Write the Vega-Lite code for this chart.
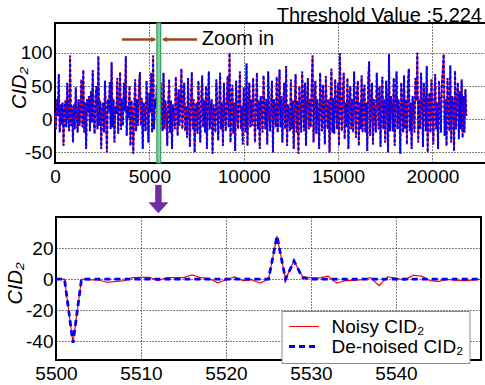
{
"$schema": "https://vega.github.io/schema/vega-lite/v6.json",
"background": "white",
"padding": {"left": 4, "top": 5, "right": 0, "bottom": 0},
"config": {
  "font": "Liberation Sans",
  "view": {"stroke": "black", "strokeWidth": 2},
  "axis": {"labelFont": "Liberation Sans", "labelFontSize": 19, "labelColor": "black", "ticks": false, "domain": false, "grid": true, "gridColor": "black", "gridDash": [1, 2], "gridOpacity": 1, "gridWidth": 1, "labelFlush": false, "labelOverlap": false, "titleFont": "Liberation Sans", "titleFontSize": 20, "titleFontWeight": "normal", "titleColor": "black", "titleFontStyle": "italic"},
  "axisX": {"labelPadding": 4},
  "axisY": {"labelPadding": 3},
  "legend": {"title": null, "symbolType": "M-3,0L3,0", "symbolSize": 100, "symbolOffset": 7, "labelFontSize": 19, "labelFont": "Liberation Sans", "labelColor": "black", "padding": 6, "strokeColor": "#8c8c8c", "fillColor": "white", "labelOffset": 18, "rowPadding": -2, "labelLimit": 400}
},
"datasets": {
  "top": [
{"x":0,"v":10},{"x":50,"v":-15},{"x":100,"v":30},{"x":150,"v":5},{"x":200,"v":68},{"x":250,"v":-20},{"x":300,"v":22},{"x":350,"v":-8},{"x":400,"v":25},{"x":450,"v":-40},
{"x":500,"v":15},{"x":550,"v":28},{"x":600,"v":-12},{"x":650,"v":55},{"x":700,"v":5},{"x":750,"v":-18},{"x":800,"v":96},{"x":850,"v":-10},{"x":900,"v":20},{"x":950,"v":-35},
{"x":1000,"v":22},{"x":1050,"v":-15},{"x":1100,"v":48},{"x":1150,"v":8},{"x":1200,"v":-20},{"x":1250,"v":30},{"x":1300,"v":-10},{"x":1350,"v":18},{"x":1400,"v":60},{"x":1450,"v":-12},
{"x":1500,"v":74},{"x":1550,"v":-20},{"x":1600,"v":25},{"x":1650,"v":-45},{"x":1700,"v":30},{"x":1750,"v":10},{"x":1800,"v":35},{"x":1850,"v":-18},{"x":1900,"v":42},{"x":1950,"v":-5},
{"x":2000,"v":74},{"x":2050,"v":0},{"x":2100,"v":-22},{"x":2150,"v":33},{"x":2200,"v":50},{"x":2250,"v":-15},{"x":2300,"v":95},{"x":2350,"v":-10},{"x":2400,"v":28},{"x":2450,"v":-45},
{"x":2500,"v":18},{"x":2550,"v":25},{"x":2600,"v":-20},{"x":2650,"v":58},{"x":2700,"v":5},{"x":2750,"v":-50},{"x":2800,"v":30},{"x":2850,"v":12},{"x":2900,"v":56},{"x":2950,"v":-15},
{"x":3000,"v":86},{"x":3050,"v":-12},{"x":3100,"v":30},{"x":3150,"v":-35},{"x":3200,"v":20},{"x":3250,"v":8},{"x":3300,"v":62},{"x":3350,"v":-22},{"x":3400,"v":25},{"x":3450,"v":71},
{"x":3500,"v":-16},{"x":3550,"v":30},{"x":3600,"v":-10},{"x":3650,"v":55},{"x":3700,"v":12},{"x":3750,"v":95},{"x":3800,"v":-25},{"x":3850,"v":20},{"x":3900,"v":2},{"x":3950,"v":50},
{"x":4000,"v":-40},{"x":4050,"v":28},{"x":4100,"v":15},{"x":4150,"v":-52},{"x":4200,"v":20},{"x":4250,"v":60},{"x":4300,"v":-18},{"x":4350,"v":30},{"x":4400,"v":-10},{"x":4450,"v":52},
{"x":4500,"v":71},{"x":4550,"v":-10},{"x":4600,"v":32},{"x":4650,"v":-45},{"x":4700,"v":25},{"x":4750,"v":15},{"x":4800,"v":-18},{"x":4850,"v":58},{"x":4900,"v":22},{"x":4950,"v":-35},
{"x":5000,"v":40},{"x":5050,"v":10},{"x":5100,"v":70},{"x":5150,"v":-20},{"x":5200,"v":96},{"x":5250,"v":-15},{"x":5300,"v":30},{"x":5350,"v":18},{"x":5400,"v":52},{"x":5450,"v":-22},
{"x":5500,"v":30},{"x":5550,"v":-38},{"x":5600,"v":55},{"x":5650,"v":5},{"x":5700,"v":-18},{"x":5750,"v":70},{"x":5800,"v":-15},{"x":5850,"v":28},{"x":5900,"v":8},{"x":5950,"v":-40},
{"x":6000,"v":25},{"x":6050,"v":60},{"x":6100,"v":-20},{"x":6150,"v":28},{"x":6200,"v":-45},{"x":6250,"v":22},{"x":6300,"v":12},{"x":6350,"v":-15},{"x":6400,"v":64},{"x":6450,"v":20},
{"x":6500,"v":-25},{"x":6550,"v":45},{"x":6600,"v":-10},{"x":6650,"v":30},{"x":6700,"v":76},{"x":6750,"v":-15},{"x":6800,"v":25},{"x":6850,"v":55},{"x":6900,"v":-18},{"x":6950,"v":20},
{"x":7000,"v":-28},{"x":7050,"v":62},{"x":7100,"v":10},{"x":7150,"v":-42},{"x":7200,"v":25},{"x":7250,"v":71},{"x":7300,"v":-15},{"x":7350,"v":30},{"x":7400,"v":-50},{"x":7450,"v":18},
{"x":7500,"v":25},{"x":7550,"v":-22},{"x":7600,"v":58},{"x":7650,"v":5},{"x":7700,"v":-35},{"x":7750,"v":30},{"x":7800,"v":66},{"x":7850,"v":-12},{"x":7900,"v":28},{"x":7950,"v":-20},
{"x":8000,"v":50},{"x":8050,"v":-45},{"x":8100,"v":20},{"x":8150,"v":72},{"x":8200,"v":-15},{"x":8250,"v":15},{"x":8300,"v":30},{"x":8350,"v":-52},{"x":8400,"v":22},{"x":8450,"v":8},
{"x":8500,"v":-20},{"x":8550,"v":60},{"x":8600,"v":20},{"x":8650,"v":-32},{"x":8700,"v":18},{"x":8750,"v":70},{"x":8800,"v":-15},{"x":8850,"v":25},{"x":8900,"v":-40},{"x":8950,"v":55},
{"x":9000,"v":10},{"x":9050,"v":-18},{"x":9100,"v":30},{"x":9150,"v":65},{"x":9200,"v":-12},{"x":9250,"v":100},{"x":9300,"v":-35},{"x":9350,"v":20},{"x":9400,"v":52},{"x":9450,"v":-22},
{"x":9500,"v":25},{"x":9550,"v":-48},{"x":9600,"v":58},{"x":9650,"v":12},{"x":9700,"v":-15},{"x":9750,"v":30},{"x":9800,"v":72},{"x":9850,"v":-15},{"x":9900,"v":20},{"x":9950,"v":-38},
{"x":10000,"v":48},{"x":10050,"v":20},{"x":10100,"v":-20},{"x":10150,"v":84},{"x":10200,"v":-40},{"x":10250,"v":25},{"x":10300,"v":55},{"x":10350,"v":-12},{"x":10400,"v":30},{"x":10450,"v":-10},
{"x":10500,"v":62},{"x":10550,"v":8},{"x":10600,"v":-35},{"x":10650,"v":20},{"x":10700,"v":70},{"x":10750,"v":-15},{"x":10800,"v":28},{"x":10850,"v":-45},{"x":10900,"v":35},{"x":10950,"v":15},
{"x":11000,"v":-20},{"x":11050,"v":66},{"x":11100,"v":25},{"x":11150,"v":-15},{"x":11200,"v":30},{"x":11250,"v":-38},{"x":11300,"v":72},{"x":11350,"v":10},{"x":11400,"v":-18},{"x":11450,"v":25},
{"x":11500,"v":58},{"x":11550,"v":-50},{"x":11600,"v":30},{"x":11650,"v":20},{"x":11700,"v":-12},{"x":11750,"v":64},{"x":11800,"v":-20},{"x":11850,"v":18},{"x":11900,"v":75},{"x":11950,"v":-12},
{"x":12000,"v":35},{"x":12050,"v":-35},{"x":12100,"v":25},{"x":12150,"v":55},{"x":12200,"v":-15},{"x":12250,"v":80},{"x":12300,"v":-40},{"x":12350,"v":22},{"x":12400,"v":12},{"x":12450,"v":-18},
{"x":12500,"v":60},{"x":12550,"v":-15},{"x":12600,"v":28},{"x":12650,"v":-45},{"x":12700,"v":20},{"x":12750,"v":68},{"x":12800,"v":-20},{"x":12850,"v":28},{"x":12900,"v":-52},{"x":12950,"v":50},
{"x":13000,"v":15},{"x":13050,"v":-20},{"x":13100,"v":72},{"x":13150,"v":25},{"x":13200,"v":-18},{"x":13250,"v":55},{"x":13300,"v":-40},{"x":13350,"v":25},{"x":13400,"v":62},{"x":13450,"v":-15},
{"x":13500,"v":30},{"x":13550,"v":-12},{"x":13600,"v":48},{"x":13650,"v":96},{"x":13700,"v":-35},{"x":13750,"v":22},{"x":13800,"v":58},{"x":13850,"v":-22},{"x":13900,"v":30},{"x":13950,"v":8},
{"x":14000,"v":-45},{"x":14050,"v":70},{"x":14100,"v":25},{"x":14150,"v":-18},{"x":14200,"v":52},{"x":14250,"v":15},{"x":14300,"v":-38},{"x":14350,"v":65},{"x":14400,"v":20},{"x":14450,"v":-15},
{"x":14500,"v":30},{"x":14550,"v":-50},{"x":14600,"v":26},{"x":14650,"v":76},{"x":14700,"v":-20},{"x":14750,"v":32},{"x":14800,"v":-22},{"x":14850,"v":60},{"x":14900,"v":18},{"x":14950,"v":-15},
{"x":15000,"v":55},{"x":15050,"v":-40},{"x":15100,"v":99},{"x":15150,"v":20},{"x":15200,"v":-18},{"x":15250,"v":35},{"x":15300,"v":70},{"x":15350,"v":-30},{"x":15400,"v":25},{"x":15450,"v":-12},
{"x":15500,"v":62},{"x":15550,"v":-45},{"x":15600,"v":28},{"x":15650,"v":50},{"x":15700,"v":-15},{"x":15750,"v":30},{"x":15800,"v":-20},{"x":15850,"v":72},{"x":15900,"v":15},{"x":15950,"v":-28},
{"x":16000,"v":40},{"x":16050,"v":58},{"x":16100,"v":-40},{"x":16150,"v":25},{"x":16200,"v":-15},{"x":16250,"v":66},{"x":16300,"v":-20},{"x":16350,"v":28},{"x":16400,"v":52},{"x":16450,"v":-20},
{"x":16500,"v":25},{"x":16550,"v":-48},{"x":16600,"v":62},{"x":16650,"v":87},{"x":16700,"v":-25},{"x":16750,"v":25},{"x":16800,"v":55},{"x":16850,"v":-38},{"x":16900,"v":30},{"x":16950,"v":10},
{"x":17000,"v":-20},{"x":17050,"v":70},{"x":17100,"v":28},{"x":17150,"v":-15},{"x":17200,"v":50},{"x":17250,"v":-42},{"x":17300,"v":25},{"x":17350,"v":64},{"x":17400,"v":-15},{"x":17450,"v":30},
{"x":17500,"v":-35},{"x":17550,"v":58},{"x":17600,"v":22},{"x":17650,"v":-50},{"x":17700,"v":98},{"x":17750,"v":-18},{"x":17800,"v":35},{"x":17850,"v":20},{"x":17900,"v":-18},{"x":17950,"v":62},
{"x":18000,"v":-40},{"x":18050,"v":25},{"x":18100,"v":72},{"x":18150,"v":-15},{"x":18200,"v":30},{"x":18250,"v":15},{"x":18300,"v":-52},{"x":18350,"v":55},{"x":18400,"v":20},{"x":18450,"v":-20},
{"x":18500,"v":66},{"x":18550,"v":-15},{"x":18600,"v":30},{"x":18650,"v":-38},{"x":18700,"v":52},{"x":18750,"v":76},{"x":18800,"v":-18},{"x":18850,"v":25},{"x":18900,"v":-45},{"x":18950,"v":35},
{"x":19000,"v":20},{"x":19050,"v":-20},{"x":19100,"v":62},{"x":19150,"v":28},{"x":19200,"v":100},{"x":19250,"v":-35},{"x":19300,"v":30},{"x":19350,"v":-15},{"x":19400,"v":70},{"x":19450,"v":25},
{"x":19500,"v":-42},{"x":19550,"v":55},{"x":19600,"v":25},{"x":19650,"v":-18},{"x":19700,"v":80},{"x":19750,"v":-50},{"x":19800,"v":25},{"x":19850,"v":40},{"x":19900,"v":-20},{"x":19950,"v":60},
{"x":20000,"v":12},{"x":20050,"v":-38},{"x":20100,"v":30},{"x":20150,"v":68},{"x":20200,"v":-15},{"x":20250,"v":25},{"x":20300,"v":-45},{"x":20350,"v":58},{"x":20400,"v":20},{"x":20450,"v":-20},
{"x":20500,"v":50},{"x":20550,"v":75},{"x":20600,"v":98},{"x":20650,"v":-25},{"x":20700,"v":30},{"x":20750,"v":-40},{"x":20800,"v":62},{"x":20850,"v":15},{"x":20900,"v":-18},{"x":20950,"v":81},
{"x":21000,"v":-35},{"x":21050,"v":35},{"x":21100,"v":25},{"x":21150,"v":-48},{"x":21200,"v":73},{"x":21250,"v":-15},{"x":21300,"v":28},{"x":21350,"v":55},{"x":21400,"v":-30},{"x":21450,"v":42},
{"x":21500,"v":-15},{"x":21550,"v":60},{"x":21600,"v":-28},{"x":21650,"v":35},{"x":21700,"v":-20},{"x":21750,"v":45},{"x":21800,"v":5}
  ],
  "zoom": [
{"x":5500,"s":"Noisy CID₂","v":0},{"x":5501,"s":"Noisy CID₂","v":0},{"x":5502,"s":"Noisy CID₂","v":-41},{"x":5503,"s":"Noisy CID₂","v":0},{"x":5504,"s":"Noisy CID₂","v":-0.5},{"x":5505,"s":"Noisy CID₂","v":-0.5},{"x":5506,"s":"Noisy CID₂","v":-2},{"x":5507,"s":"Noisy CID₂","v":-1.5},{"x":5508,"s":"Noisy CID₂","v":-1},{"x":5509,"s":"Noisy CID₂","v":1},
{"x":5510,"s":"Noisy CID₂","v":1.2},{"x":5511,"s":"Noisy CID₂","v":1.2},{"x":5512,"s":"Noisy CID₂","v":-1},{"x":5513,"s":"Noisy CID₂","v":1},{"x":5514,"s":"Noisy CID₂","v":1},{"x":5515,"s":"Noisy CID₂","v":1},{"x":5516,"s":"Noisy CID₂","v":2.8},{"x":5517,"s":"Noisy CID₂","v":1},{"x":5518,"s":"Noisy CID₂","v":0.5},{"x":5519,"s":"Noisy CID₂","v":-2.3},
{"x":5520,"s":"Noisy CID₂","v":-0.5},{"x":5521,"s":"Noisy CID₂","v":1.5},{"x":5522,"s":"Noisy CID₂","v":-1},{"x":5523,"s":"Noisy CID₂","v":-0.3},{"x":5524,"s":"Noisy CID₂","v":-2.5},{"x":5525,"s":"Noisy CID₂","v":0},{"x":5526,"s":"Noisy CID₂","v":27.7},{"x":5527,"s":"Noisy CID₂","v":0},{"x":5528,"s":"Noisy CID₂","v":11.7},{"x":5529,"s":"Noisy CID₂","v":1.7},
{"x":5530,"s":"Noisy CID₂","v":0.8},{"x":5531,"s":"Noisy CID₂","v":0.8},{"x":5532,"s":"Noisy CID₂","v":2},{"x":5533,"s":"Noisy CID₂","v":-2.5},{"x":5534,"s":"Noisy CID₂","v":-1},{"x":5535,"s":"Noisy CID₂","v":-0.8},{"x":5536,"s":"Noisy CID₂","v":-0.3},{"x":5537,"s":"Noisy CID₂","v":1},{"x":5538,"s":"Noisy CID₂","v":-4.2},{"x":5539,"s":"Noisy CID₂","v":1.5},
{"x":5540,"s":"Noisy CID₂","v":0.6},{"x":5541,"s":"Noisy CID₂","v":-0.6},{"x":5542,"s":"Noisy CID₂","v":2.5},{"x":5543,"s":"Noisy CID₂","v":2},{"x":5544,"s":"Noisy CID₂","v":-1},{"x":5545,"s":"Noisy CID₂","v":-1.5},{"x":5546,"s":"Noisy CID₂","v":-0.2},{"x":5547,"s":"Noisy CID₂","v":-0.6},{"x":5548,"s":"Noisy CID₂","v":-1},{"x":5549,"s":"Noisy CID₂","v":-0.6},{"x":5550,"s":"Noisy CID₂","v":0},
{"x":5500,"s":"De-noised CID₂","v":0},{"x":5501,"s":"De-noised CID₂","v":0},{"x":5502,"s":"De-noised CID₂","v":-41},{"x":5503,"s":"De-noised CID₂","v":0},{"x":5504,"s":"De-noised CID₂","v":0},{"x":5505,"s":"De-noised CID₂","v":0},{"x":5506,"s":"De-noised CID₂","v":0},{"x":5507,"s":"De-noised CID₂","v":0},{"x":5508,"s":"De-noised CID₂","v":0},{"x":5509,"s":"De-noised CID₂","v":0},
{"x":5510,"s":"De-noised CID₂","v":0},{"x":5511,"s":"De-noised CID₂","v":0},{"x":5512,"s":"De-noised CID₂","v":0},{"x":5513,"s":"De-noised CID₂","v":0},{"x":5514,"s":"De-noised CID₂","v":0},{"x":5515,"s":"De-noised CID₂","v":0},{"x":5516,"s":"De-noised CID₂","v":0},{"x":5517,"s":"De-noised CID₂","v":0},{"x":5518,"s":"De-noised CID₂","v":0},{"x":5519,"s":"De-noised CID₂","v":0},
{"x":5520,"s":"De-noised CID₂","v":0},{"x":5521,"s":"De-noised CID₂","v":0},{"x":5522,"s":"De-noised CID₂","v":0},{"x":5523,"s":"De-noised CID₂","v":0},{"x":5524,"s":"De-noised CID₂","v":0},{"x":5525,"s":"De-noised CID₂","v":0},{"x":5526,"s":"De-noised CID₂","v":27.7},{"x":5527,"s":"De-noised CID₂","v":0},{"x":5528,"s":"De-noised CID₂","v":11.7},{"x":5529,"s":"De-noised CID₂","v":1},
{"x":5530,"s":"De-noised CID₂","v":0},{"x":5531,"s":"De-noised CID₂","v":0},{"x":5532,"s":"De-noised CID₂","v":0},{"x":5533,"s":"De-noised CID₂","v":0},{"x":5534,"s":"De-noised CID₂","v":0},{"x":5535,"s":"De-noised CID₂","v":0},{"x":5536,"s":"De-noised CID₂","v":0},{"x":5537,"s":"De-noised CID₂","v":0},{"x":5538,"s":"De-noised CID₂","v":0},{"x":5539,"s":"De-noised CID₂","v":0},
{"x":5540,"s":"De-noised CID₂","v":0},{"x":5541,"s":"De-noised CID₂","v":0},{"x":5542,"s":"De-noised CID₂","v":0},{"x":5543,"s":"De-noised CID₂","v":0},{"x":5544,"s":"De-noised CID₂","v":0},{"x":5545,"s":"De-noised CID₂","v":0},{"x":5546,"s":"De-noised CID₂","v":0},{"x":5547,"s":"De-noised CID₂","v":0},{"x":5548,"s":"De-noised CID₂","v":0},{"x":5549,"s":"De-noised CID₂","v":0},{"x":5550,"s":"De-noised CID₂","v":0}
  ]
},
"bounds": "full",
"spacing": 1,
"resolve": {"scale": {"x": "independent", "y": "independent"}, "legend": {"color": "independent", "strokeDash": "independent", "strokeWidth": "independent"}},
"vconcat": [
  {
    "width": 434,
    "height": 140,
    "title": {"text": "Threshold Value :5.224", "anchor": "end", "orient": "top", "frame": "group", "offset": -20, "baseline": "alphabetic", "fontSize": 20, "font": "Liberation Sans", "fontWeight": "normal", "color": "black", "dx": -7},
    "layer": [
      {"data": {"name": "top"}, "mark": {"type": "line", "color": "#ff0000", "strokeWidth": 1.5},
       "encoding": {
         "x": {"field": "x", "type": "quantitative", "scale": {"domain": [0, 23000], "nice": false, "zero": false}, "axis": {"values": [0, 5000, 10000, 15000, 20000], "labelExpr": "'' + datum.value", "title": null}},
         "y": {"field": "v", "type": "quantitative", "scale": {"domain": [-66, 145], "nice": false, "zero": false}, "axis": {"values": [-50, 0, 50, 100], "labelExpr": "'' + datum.value", "title": "CID₂", "titleX": -30, "titleY": 64.5, "titleAngle": 270, "titleBaseline": "alphabetic", "titleAlign": "center"}}
       }},
      {"data": {"name": "top"}, "mark": {"type": "line", "color": "#0000ff", "strokeWidth": 2, "strokeDash": [3, 2]},
       "encoding": {"x": {"field": "x", "type": "quantitative"}, "y": {"field": "v", "type": "quantitative"}}},
      {"data": {"values": [{}]}, "mark": {"type": "rect", "fill": "#86cfa0", "stroke": "#2e9e5b", "strokeWidth": 1.2},
       "encoding": {"x": {"datum": 5400}, "x2": {"datum": 5600}, "y": {"datum": -66}, "y2": {"datum": 145}}},
      {"data": {"values": [{}]}, "mark": {"type": "rule", "color": "#a0461e", "strokeWidth": 2.5},
       "encoding": {"x": {"datum": 3550}, "x2": {"datum": 5300}, "y": {"datum": 120}}},
      {"data": {"values": [{}]}, "mark": {"type": "rule", "color": "#a0461e", "strokeWidth": 2.5},
       "encoding": {"x": {"datum": 5730}, "x2": {"datum": 7530}, "y": {"datum": 120}}},
      {"data": {"values": [{}]}, "mark": {"type": "point", "shape": "M-2,-1L0,0L-2,1Z", "size": 25, "filled": true, "color": "#a0461e", "opacity": 1},
       "encoding": {"x": {"datum": 5355}, "y": {"datum": 120}}},
      {"data": {"values": [{}]}, "mark": {"type": "point", "shape": "M2,-1L0,0L2,1Z", "size": 25, "filled": true, "color": "#a0461e", "opacity": 1},
       "encoding": {"x": {"datum": 5673}, "y": {"datum": 120}}},
      {"data": {"values": [{}]}, "mark": {"type": "text", "text": "Zoom in", "align": "left", "baseline": "middle", "fontSize": 20, "font": "Liberation Sans", "color": "black"},
       "encoding": {"x": {"datum": 7780}, "y": {"datum": 121}}},
      {"data": {"values": [{}]}, "mark": {"type": "rule", "color": "#7030a0", "strokeWidth": 6.5, "strokeCap": "butt"},
       "encoding": {"x": {"datum": 5480}, "y": {"datum": -99}, "y2": {"datum": -128}}},
      {"data": {"values": [{}]}, "mark": {"type": "point", "shape": "M-1,-0.55L1,-0.55L0,0.55Z", "size": 400, "filled": true, "color": "#7030a0", "opacity": 1},
       "encoding": {"x": {"datum": 5480}, "y": {"datum": -133.5}}}
    ]
  },
  {
    "align": "none",
    "spacing": -52,
    "bounds": "full",
    "resolve": {"scale": {"x": "independent", "y": "independent"}, "legend": {"color": "independent", "strokeDash": "independent", "strokeWidth": "independent"}},
    "concat": [
      {"width": 1, "height": 143, "view": {"stroke": null}, "data": {"values": []}, "mark": "point", "encoding": {}},
      {
        "width": 425,
        "height": 143,
        "data": {"name": "zoom"},
        "layer": [
          {"transform": [{"filter": "datum.s == 'Noisy CID₂'"}], "mark": {"type": "line"},
           "encoding": {
             "x": {"field": "x", "type": "quantitative", "scale": {"domain": [5500, 5550], "nice": false, "zero": false}, "axis": {"values": [5500, 5510, 5520, 5530, 5540], "labelExpr": "'' + datum.value", "title": null}},
             "y": {"field": "v", "type": "quantitative", "scale": {"domain": [-52, 40], "nice": false, "zero": false}, "axis": {"values": [-40, -20, 0, 20], "labelExpr": "'' + datum.value", "title": "CID₂", "titleX": -34.5, "titleY": 66, "titleAngle": 270, "titleBaseline": "alphabetic", "titleAlign": "center"}},
             "color": {"field": "s", "type": "nominal", "scale": {"domain": ["Noisy CID₂", "De-noised CID₂"], "range": ["#ff0000", "#0000ff"]}, "legend": {"orient": "none", "legendX": 225.5, "legendY": 94, "labelExpr": "datum.label + '\u00a0\u00a0\u00a0'"}},
             "strokeDash": {"field": "s", "type": "nominal", "scale": {"domain": ["Noisy CID₂", "De-noised CID₂"], "range": [[1, 0], [6, 4]]}},
             "strokeWidth": {"field": "s", "type": "nominal", "scale": {"domain": ["Noisy CID₂", "De-noised CID₂"], "range": [1.2, 2.8]}}
           }},
          {"transform": [{"filter": "datum.s == 'De-noised CID₂'"}], "mark": {"type": "line"},
           "encoding": {
             "x": {"field": "x", "type": "quantitative"},
             "y": {"field": "v", "type": "quantitative"},
             "color": {"field": "s", "type": "nominal"},
             "strokeDash": {"field": "s", "type": "nominal"},
             "strokeWidth": {"field": "s", "type": "nominal"}
           }}
        ]
      }
    ]
  }
]
}
